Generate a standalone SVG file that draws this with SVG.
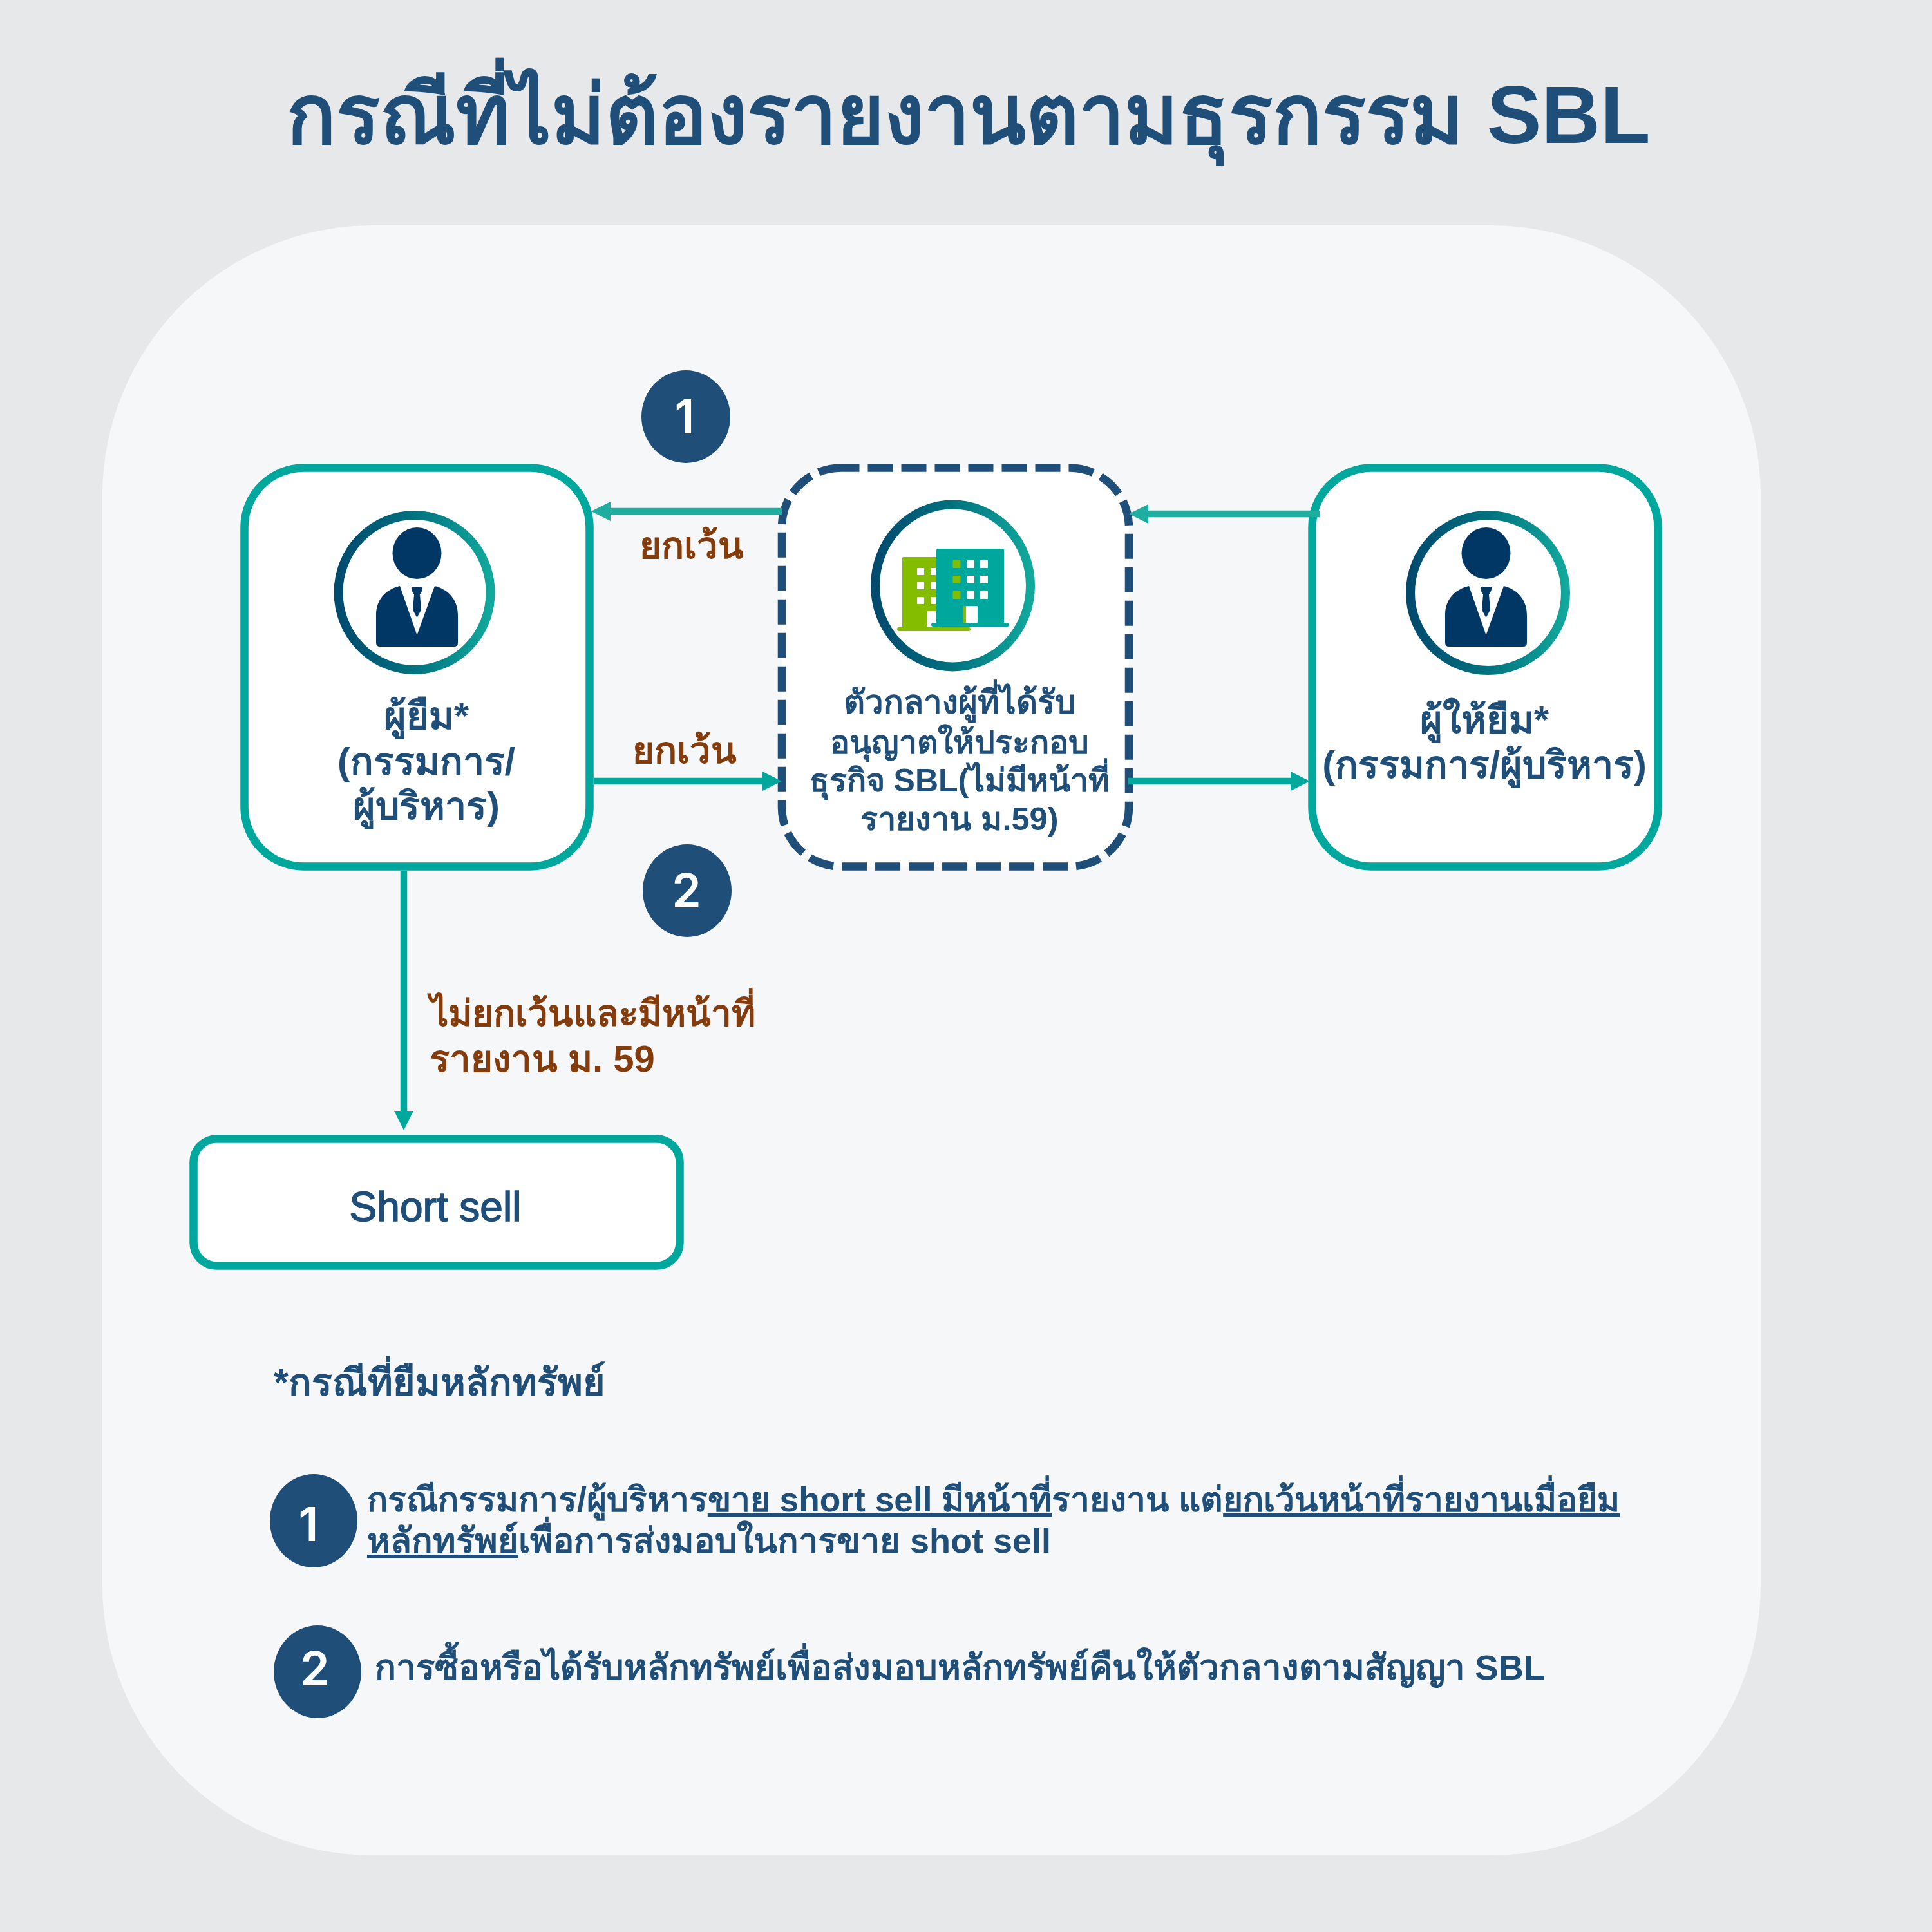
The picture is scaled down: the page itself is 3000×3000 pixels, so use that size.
<svg xmlns="http://www.w3.org/2000/svg" width="3000" height="3000" viewBox="0 0 3000 3000">
<style>
text{font-family:"Liberation Sans","Noto Sans",sans-serif;font-weight:700;fill:#1f4e79}
.m{text-anchor:middle}
.b{fill:#843c0c}
.box{fill:#fff;stroke:#00a79d;stroke-width:12.5}
.lnk{fill:none;stroke:#00a79d;stroke-width:10.5}
.lnk2{fill:none;stroke:#1fada0;stroke-width:10.5}
.num{fill:#1f4e79}
.numt{fill:#fff;font-size:73px;text-anchor:middle;font-family:"Inter","Liberation Sans",sans-serif;font-weight:600}
.u{text-decoration:underline}
</style>
<defs>
<linearGradient id="ring" x1="0" y1="0" x2="1" y2="0"><stop offset="0" stop-color="#004a6e"/><stop offset="0.5" stop-color="#00727f"/><stop offset="1" stop-color="#12a89c"/></linearGradient>
<marker id="a1" markerUnits="userSpaceOnUse" markerWidth="30" markerHeight="32" refX="1" refY="15" orient="auto"><path d="M0,0L30,15L0,30Z" fill="#00a79d"/></marker>
<marker id="a2" markerUnits="userSpaceOnUse" markerWidth="30" markerHeight="32" refX="1" refY="15" orient="auto"><path d="M0,0L30,15L0,30Z" fill="#1fada0"/></marker>
<g id="person">
<ellipse cx="647.500" cy="859" rx="38" ry="40" fill="#003764"/>
<path d="M621,910C600,915 584,930 584,955L584,998Q584,1004 590,1004L705,1004Q711,1004 711,998L711,955C711,930 695,915 675,910L647.500,986Z" fill="#003764"/>
<path d="M639,911L656,911Q657,917 652,923L654,947L647.500,959L641,947L643,923Q638,917 639,911Z" fill="#003764"/>
</g>
</defs>
<rect width="3000" height="3000" fill="#e6e8ea"/>
<rect id="panel" x="159" y="350" width="2575" height="2531" rx="420" ry="420" fill="#f5f7f9"/>
<text id="title" x="1504" y="222" class="m" font-size="127">กรณีที่ไม่ต้องรายงานตามธุรกรรม SBL</text>

<g id="borrower">
<rect class="box" x="379.500" y="726.500" width="536" height="619" rx="92"/>
<ellipse cx="643.500" cy="920" rx="118" ry="120" fill="#fff" stroke="url(#ring)" stroke-width="14"/>
<use href="#person"/>
<text class="m" x="662" y="1132" font-size="59">ผู้ยืม*</text>
<text class="m" x="662" y="1203" font-size="59">(กรรมการ/</text>
<text class="m" x="662" y="1272" font-size="59">ผู้บริหาร)</text>
</g>
<g id="broker">
<rect x="1214" y="726.500" width="539" height="619" rx="92" fill="#fff" stroke="#1f4e79" stroke-width="12.500" stroke-dasharray="39 13" stroke-dashoffset="10.500"/>
<ellipse cx="1479.500" cy="909.500" rx="120.500" ry="126" fill="#fff" stroke="url(#ring)" stroke-width="14"/>
<rect x="1401" y="865" width="60" height="110" rx="2" fill="#84bd00"/>
<rect x="1393" y="974" width="114" height="6" rx="3" fill="#84bd00"/>
<g fill="#fff"><rect x="1424" y="882" width="11" height="11" rx="1"/><rect x="1445" y="882" width="9" height="11" rx="1"/><rect x="1424" y="904" width="11" height="11" rx="1"/><rect x="1445" y="904" width="9" height="11" rx="1"/><rect x="1424" y="927" width="11" height="11" rx="1"/><rect x="1445" y="927" width="9" height="11" rx="1"/><rect x="1439" y="949" width="15" height="24" rx="1"/></g>
<rect x="1454" y="852" width="105" height="117" rx="2" fill="#00a79d"/>
<rect x="1446" y="967" width="121" height="6" rx="3" fill="#00a79d"/>
<g fill="#84bd00"><rect x="1479.500" y="870" width="12" height="12" rx="1"/><rect x="1479.500" y="894" width="12" height="12" rx="1"/><rect x="1479.500" y="918" width="12" height="12" rx="1"/><rect x="1495" y="941" width="8" height="26" rx="1"/></g>
<g fill="#fff"><rect x="1501" y="870" width="12" height="12" rx="1"/><rect x="1501" y="894" width="12" height="12" rx="1"/><rect x="1501" y="918" width="12" height="12" rx="1"/><rect x="1522" y="870" width="12" height="12" rx="1"/><rect x="1522" y="894" width="12" height="12" rx="1"/><rect x="1522" y="918" width="12" height="12" rx="1"/><rect x="1500" y="941" width="18" height="26" rx="1"/></g>
<text class="m" x="1490" y="1108" font-size="51">ตัวกลางผู้ที่ได้รับ</text>
<text class="m" x="1490" y="1170" font-size="50">อนุญาตให้ประกอบ</text>
<text class="m" x="1490" y="1229" font-size="50">ธุรกิจ SBL(ไม่มีหน้าที่</text>
<text class="m" x="1490" y="1289" font-size="50.500">รายงาน ม.59)</text>
</g>
<g id="lender">
<rect class="box" x="2037.500" y="726.500" width="537" height="619" rx="92"/>
<ellipse cx="2310.500" cy="920.500" rx="120.500" ry="120.500" fill="#fff" stroke="url(#ring)" stroke-width="14"/>
<use href="#person" transform="translate(1660,0)"/>
<text class="m" x="2305" y="1138" font-size="59">ผู้ให้ยืม*</text>
<text class="m" x="2305" y="1208" font-size="59">(กรรมการ/ผู้บริหาร)</text>
</g>
<g id="shortsell">
<rect class="box" x="300.500" y="1768.500" width="755" height="197" rx="36"/>
<text class="m" x="676" y="1896" font-size="64" style="font-weight:400;stroke:#1f4e79;stroke-width:1.6">Short sell</text>
</g>
<g id="connectors">
<path class="lnk2" d="M1214,794H947" marker-end="url(#a2)"/>
<path class="lnk" d="M922,1213H1185" marker-end="url(#a1)"/>
<path class="lnk2" d="M2050,798H1782" marker-end="url(#a2)"/>
<path class="lnk" d="M1752,1213H2005" marker-end="url(#a1)"/>
<path class="lnk" d="M627,1352V1726" marker-end="url(#a1)"/>
</g>
<g id="badge1"><ellipse class="num" cx="1065" cy="647" rx="69" ry="72"/><text class="numt" x="1063" y="673">1</text></g>
<g id="badge2"><ellipse class="num" cx="1067" cy="1383" rx="69" ry="72"/><text class="numt" x="1066" y="1409">2</text></g>
<text class="b m" x="1074" y="867" font-size="58">ยกเว้น</text>
<text class="b m" x="1063" y="1185" font-size="58">ยกเว้น</text>
<text class="b" x="668" y="1593" font-size="56.500">ไม่ยกเว้นและมีหน้าที่</text>
<text class="b" x="667" y="1664" font-size="58">รายงาน ม. 59</text>
<text x="425" y="2167" font-size="59">*กรณีที่ยืมหลักทรัพย์</text>
<g id="note1"><ellipse class="num" cx="487" cy="2361.500" rx="68" ry="72.500"/><text class="numt" x="479" y="2393">1</text></g>
<text x="570" y="2347" font-size="53.300">กรณีกรรมการ/ผู้บริหาร<tspan class="u">ขาย short sell มีหน้าที่</tspan>รายงาน แต่<tspan class="u">ยกเว้นหน้าที่รายงานเมื่อยืม</tspan></text>
<text x="570" y="2411" font-size="54"><tspan class="u">หลักทรัพย์</tspan>เพื่อการส่งมอบในการขาย shot sell</text>
<g id="note2"><ellipse class="num" cx="493" cy="2596" rx="68" ry="72"/><text class="numt" x="489" y="2617">2</text></g>
<text x="582" y="2608" font-size="54.500">การซื้อหรือได้รับหลักทรัพย์เพื่อส่งมอบหลักทรัพย์คืนให้ตัวกลางตามสัญญา SBL</text>
</svg>
